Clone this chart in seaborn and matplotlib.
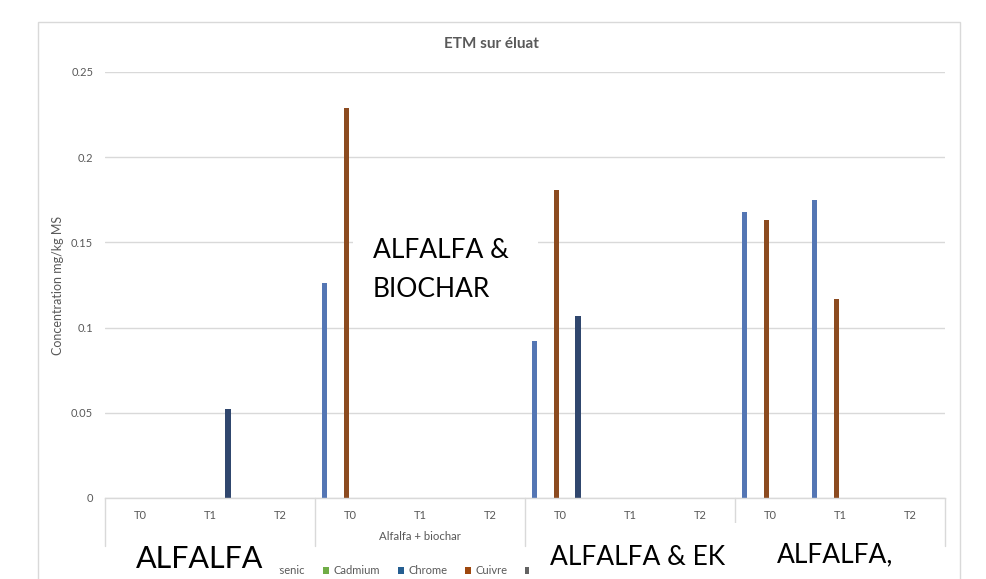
import numpy as np
import pandas as pd
import matplotlib
matplotlib.use("Agg")
import matplotlib.pyplot as plt
import matplotlib.transforms as mtransforms
from matplotlib.patches import Rectangle, Patch
import seaborn as sns

# ---- data -------------------------------------------------------------
groups = ["Alfalfa", "Alfalfa + biochar", "Alfalfa + EK", "Alfalfa + biochar + EK"]
times = ["T0", "T1", "T2"]
metals = ["Arsenic", "Cadmium", "Chrome", "Cuivre", "Mercure", "Nickel", "Plomb", "Zinc"]
colors = ["#4472C4", "#70AD47", "#255E91", "#9E480E", "#636363", "#997300", "#264478", "#43682B"]

nan = np.nan
# one value per (group, time), in group order then time order
arsenic = [nan, nan, nan, 0.126, nan, nan, 0.092, nan, nan, 0.168, 0.175, nan]
cuivre = [nan, nan, nan, 0.229, nan, nan, 0.181, nan, nan, 0.163, 0.117, nan]
plomb = [nan, 0.052, nan, nan, nan, nan, 0.107, nan, nan, nan, nan, nan]
series = {"Arsenic": arsenic, "Cuivre": cuivre, "Plomb": plomb}

yticks = [0, 0.05, 0.1, 0.15, 0.2, 0.25]
ytick_labels = ["0", "0.05", "0.1", "0.15", "0.2", "0.25"]

# ---- long table -------------------------------------------------------
keys = [f"{g}|{t}" for g in groups for t in times]
rows = []
for metal, vals in series.items():
    for k, v in zip(keys, vals):
        if not np.isnan(v):
            rows.append({"pos": k, "metal": metal, "value": v})
df = pd.DataFrame(rows)

# ---- figure -----------------------------------------------------------
W, H = 986, 579
sns.set_theme(style="white")
plt.rcParams["font.family"] = ["Lato", "DejaVu Sans"]
fig = plt.figure(figsize=(W / 100, H / 100), dpi=100)
fig.patch.set_facecolor("white")

def fx(px):
    return px / W

def fy(py):
    return 1 - py / H

left, right, top, bottom = 105, 945, 72, 498
ax = fig.add_axes([fx(left), fy(bottom), fx(right - left), (bottom - top) / H])

palette = dict(zip(metals, colors))
sns.barplot(data=df, x="pos", y="value", hue="metal", order=keys, hue_order=metals,
            palette=palette, width=0.834, gap=0.22, errorbar=None, linewidth=0,
            legend=False, ax=ax)

grey_txt = "#595959"
grid_c = "#D9D9D9"
ax.set_xlim(-0.5, len(keys) - 0.5)
ax.set_ylim(0, 0.25)
ax.set_yticks(yticks)
ax.set_yticklabels(ytick_labels, color=grey_txt, fontsize=8)
ax.yaxis.grid(True, color=grid_c, linewidth=1)
ax.set_axisbelow(True)
ax.tick_params(axis="y", length=0, pad=8.5)
ax.set_xticks(range(len(keys)))
ax.set_xticklabels(times * len(groups), color=grey_txt, fontsize=8)
ax.tick_params(axis="x", length=0, pad=8.5)
ax.set_xlabel("")
ax.set_ylabel("")
for s in ["top", "right", "left"]:
    ax.spines[s].set_visible(False)
ax.spines["bottom"].set_color(grid_c)
ax.spines["bottom"].set_linewidth(1)

# multi-level category axis: group separators and group names
trans = mtransforms.blended_transform_factory(ax.transData, ax.transAxes)
sep_bottom = -(546 - bottom) / (bottom - top)
for i in range(len(groups) + 1):
    xs = i * len(times) - 0.5
    ax.plot([xs, xs], [0, sep_bottom], transform=trans, color=grid_c, lw=1, clip_on=False)
for i, g in enumerate(groups):
    ax.text(i * len(times) + 1, -(537 - bottom) / (bottom - top), g, transform=trans,
            ha="center", va="center", fontsize=8.2, color=grey_txt)

# axis label and title
fig.text(fx(58), fy(285), "Concentration mg/kg MS", rotation=90, ha="center", va="center",
         fontsize=9, color=grey_txt)
fig.text(fx(491), fy(44), "ETM sur éluat", ha="center", va="center", fontsize=11,
         fontweight="bold", color=grey_txt)

# chart frame
fig.add_artist(Rectangle((fx(38), fy(H + 5)), fx(960 - 38), (H + 5 - 22) / H,
                         transform=fig.transFigure, fill=False, ec=grid_c, lw=1))

# legend
handles = [Patch(facecolor=palette[m], edgecolor="none", label=m) for m in metals]
leg = fig.legend(handles=handles, loc="center left", bbox_to_anchor=(fx(258), fy(571)),
                 ncol=len(metals), frameon=False, fontsize=8, handlelength=0.55,
                 handleheight=0.55, handletextpad=0.4, columnspacing=1.6,
                 borderaxespad=0, borderpad=0)
leg.set_zorder(4)
for t in leg.get_texts():
    t.set_color(grey_txt)

# annotation boxes
def label_box(x0, y0, x1, y1):
    fig.add_artist(Rectangle((fx(x0), fy(y1)), fx(x1 - x0), (y1 - y0) / H,
                             transform=fig.transFigure, fc="white", ec="none", zorder=5))

def big_text(x, y_base, s, size=19):
    fig.text(fx(x), fy(y_base), s, ha="left", va="baseline", fontsize=size, color="black", zorder=6)

label_box(353, 175, 538, 315)
big_text(373, 258, "ALFALFA &")
big_text(373, 297, "BIOCHAR")

label_box(128, 526, 279, H + 5)
big_text(136, 568, "ALFALFA", size=22)

label_box(529, 528, 734, H + 5)
big_text(550, 565, "ALFALFA & EK")

label_box(733, 523, 905, H + 5)
big_text(777, 562, "ALFALFA,")

fig.savefig("out.png", dpi=100, facecolor="white")
